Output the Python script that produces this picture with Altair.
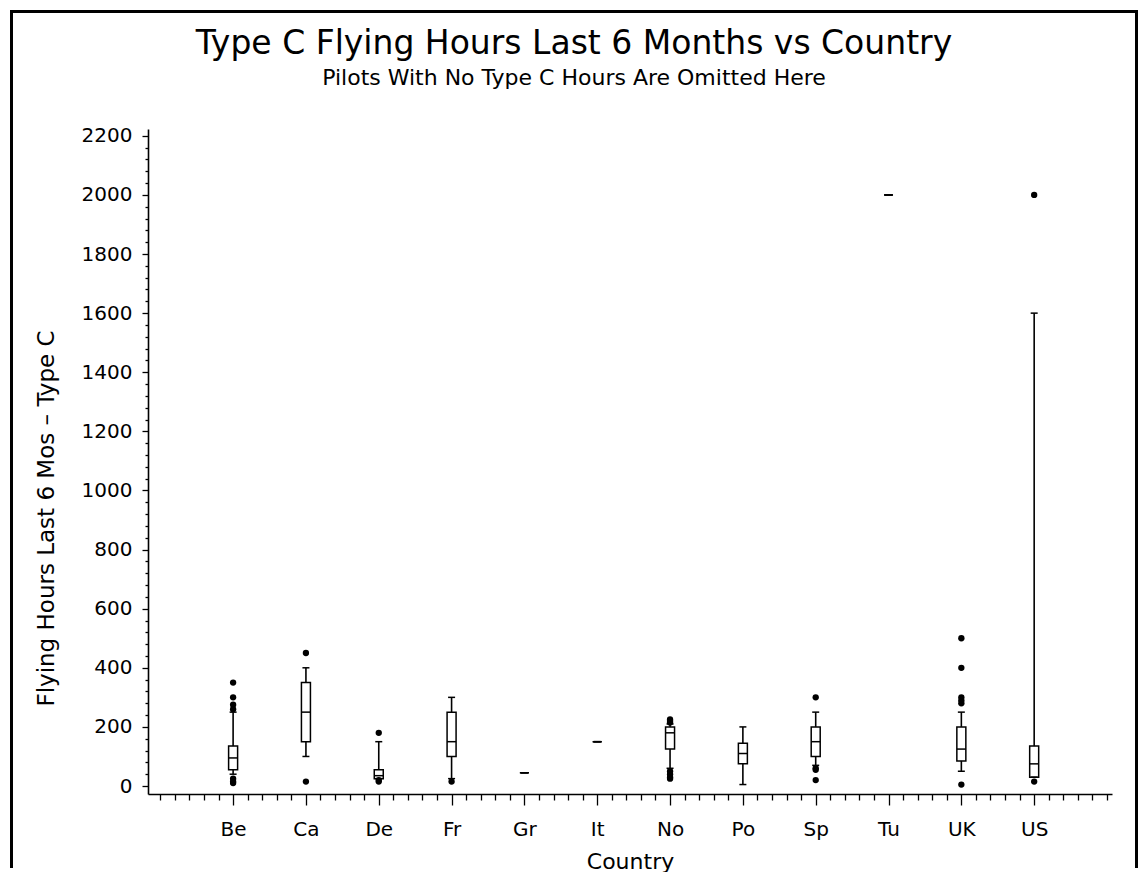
import json
import altair as alt
import pandas as pd

# ---- data ----
countries = ["Be", "Ca", "De", "Fr", "Gr", "It", "No", "Po", "Sp", "Tu", "UK", "US"]
q1 = [55, 150, 25, 100, 45, 150, 125, 75, 100, 2000, 85, 30]
median = [95, 250, 35, 150, 45, 150, 180, 110, 150, 2000, 125, 75]
q3 = [135, 350, 55, 250, 45, 150, 200, 145, 200, 2000, 200, 135]
whisker_lo = [40, 100, 25, 25, 45, 150, 60, 5, 70, 2000, 50, 30]
whisker_hi = [250, 400, 150, 300, 45, 150, 210, 200, 250, 2000, 250, 1600]

outlier_country = ["Be", "Be", "Be", "Be", "Be", "Be", "Be",
                   "Ca", "Ca",
                   "De", "De", "De",
                   "Fr",
                   "No", "No", "No", "No", "No", "No", "No",
                   "Sp", "Sp", "Sp", "Sp",
                   "UK", "UK", "UK", "UK", "UK", "UK",
                   "US", "US"]
outlier_value = [350, 300, 275, 260, 25, 15, 10,
                 450, 15,
                 180, 20, 15,
                 15,
                 225, 220, 215, 50, 40, 30, 25,
                 300, 60, 55, 20,
                 500, 400, 300, 290, 280, 5,
                 2000, 15]

y_ticks = list(range(0, 2201, 40))
x_ticks = [round(i * 0.2, 1) for i in range(0, 66)]

title_text = "Type C Flying Hours Last 6 Months vs Country"
subtitle_text = "Pilots With No Type C Hours Are Omitted Here"
x_title = "Country"
y_title = "Flying Hours Last 6 Mos \u2013 Type C"

# ---- tables ----
box_df = pd.DataFrame({
    "country": countries,
    "idx": list(range(1, len(countries) + 1)),
    "q1": q1, "median": median, "q3": q3,
    "lo": whisker_lo, "hi": whisker_hi,
})
out_df = pd.DataFrame({
    "country": outlier_country,
    "idx": [countries.index(c) + 1 for c in outlier_country],
    "value": outlier_value,
})
frame_df = pd.DataFrame({"k": [0]})

FONT = "DejaVu Sans"
W, H = 964, 665

names = [""] + countries + [""]
is_major_x = "abs(datum.value - round(datum.value)) < 0.01 && datum.value >= 1 && datum.value <= 12"
x_axis = alt.Axis(
    values=x_ticks,
    labelExpr="(" + is_major_x + ") ? " + json.dumps(names) + "[round(datum.value)] : ''",
    tickSize={"condition": {"test": is_major_x, "value": 11}, "value": 6},
    labelOverlap=False, labelFlush=False, labelFontSize=20, labelPadding=14,
    title=x_title, titleFontSize=22, titlePadding=12, grid=False,
)
is_major_y = "datum.value % 200 === 0"
y_axis = alt.Axis(
    values=y_ticks, format="d",
    labelExpr="(" + is_major_y + ") ? datum.label : ''",
    tickSize={"condition": {"test": is_major_y, "value": 6}, "value": 3},
    labelOverlap=False, labelFlush=False, labelFontSize=20, labelPadding=10,
    title=y_title, titleFontSize=23, titleX=-95, titleY=389,
    titleBaseline="alphabetic", grid=False,
)
x_scale = alt.Scale(domain=[-0.1, 13.0], nice=False, zero=False)
y_scale = alt.Scale(domain=[-27, 2223], nice=False, zero=False)


def X():
    return alt.X("idx:Q", scale=x_scale, axis=x_axis)


def Y(field):
    return alt.Y(field + ":Q", scale=y_scale, axis=y_axis)


base = alt.Chart(box_df)
whisk = base.mark_rule(color="black", strokeWidth=1.6).encode(x=X(), y=Y("lo"), y2="hi:Q")
box = base.mark_bar(size=9, fill="white", stroke="black", strokeWidth=1.5).encode(
    x=X(), y=Y("q1"), y2="q3:Q")
med = base.mark_tick(orient="horizontal", size=9, thickness=1.5, color="black", opacity=1).encode(
    x=X(), y=Y("median"))
cap_lo = base.mark_tick(orient="horizontal", size=7, thickness=1.5, color="black", opacity=1).encode(
    x=X(), y=Y("lo"))
cap_hi = base.mark_tick(orient="horizontal", size=7, thickness=1.5, color="black", opacity=1).encode(
    x=X(), y=Y("hi"))
outs = alt.Chart(out_df).mark_circle(size=40, color="black", opacity=1).encode(
    x=X(), y=Y("value"))

fr = alt.Chart(frame_df)
frame_left = fr.mark_rule(color="black", strokeWidth=3).encode(
    x=alt.value(-136.5), y=alt.value(-119), y2=alt.value(739))
frame_top = fr.mark_rule(color="black", strokeWidth=3).encode(
    x=alt.value(-138), x2=alt.value(990), y=alt.value(-117.5))
frame_right = fr.mark_rule(color="black", strokeWidth=3).encode(
    x=alt.value(988.5), y=alt.value(-119), y2=alt.value(739))

chart = alt.layer(
    frame_left, frame_top, frame_right,
    whisk, box, med, cap_lo, cap_hi, outs,
).properties(
    width=W, height=H, padding=0,
    title=alt.TitleParams(
        text=title_text, subtitle=subtitle_text,
        font=FONT, fontSize=33, fontWeight="normal", color="black",
        subtitleFont=FONT, subtitleFontSize=22, subtitleColor="black",
        subtitlePadding=7, anchor="middle", frame="bounds", offset=-80,
    ),
).configure_view(stroke=None).configure_axis(
    labelFont=FONT, titleFont=FONT, labelColor="black", titleColor="black",
    titleFontWeight="normal", domainColor="black", tickColor="black",
    domainWidth=1.6, tickWidth=1.3,
)

chart.save("out.html", embed_options={"renderer": "svg", "actions": False})
